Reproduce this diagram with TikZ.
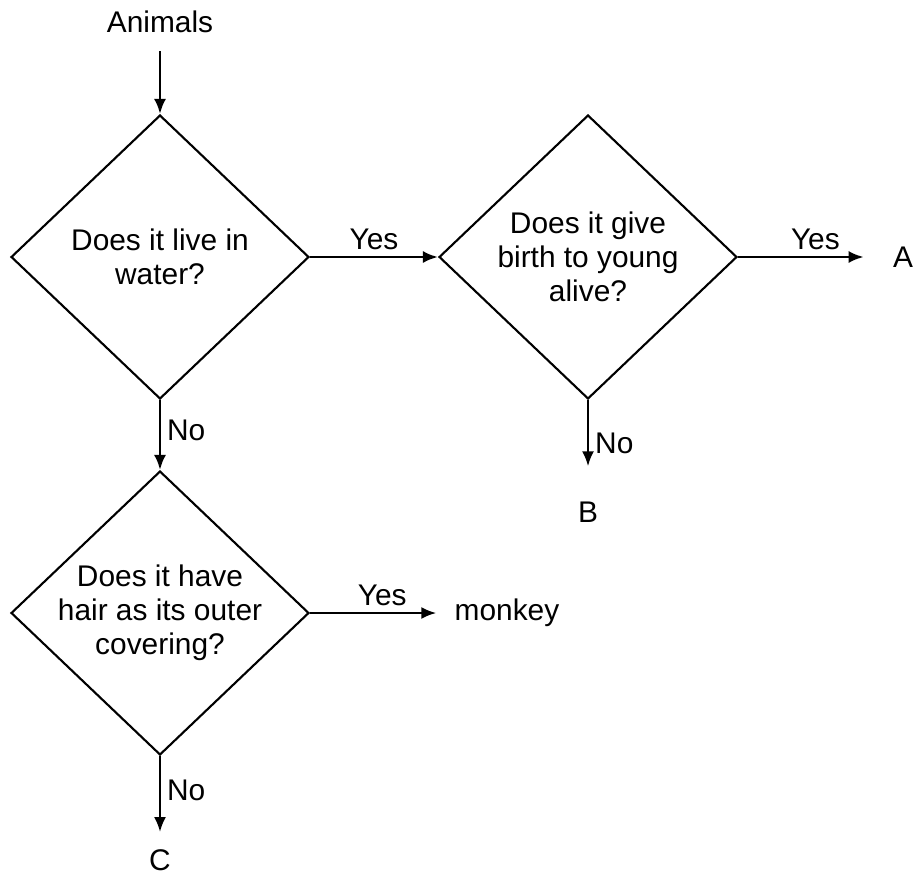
\documentclass[tikz,border=0pt]{standalone}
\usepackage{fontspec}
\setmainfont{Liberation Sans}
\usetikzlibrary{shapes.geometric,arrows.meta}

\begin{document}
\begin{tikzpicture}[x=0.02cm, y=-0.02cm,
  question/.style={draw, diamond, line width=1.2pt, aspect=1.05, inner sep=-4pt,
    minimum width=5.96cm, minimum height=5.68cm, align=center,
    font=\fontsize{17}{19.5}\selectfont},
  lbl/.style={inner sep=0pt, font=\fontsize{17}{19.5}\selectfont},
  ans/.style={font=\fontsize{17}{19.5}\selectfont},
  flow/.style={line width=1.5pt, -{Latex[length=0.3cm, width=0.24cm]}}]

 \useasboundingbox (0,0) rectangle (915,875);

 %questions
 \node[question] (water) at (160,257) {Does it live in\\water?};
 \node[question] (birth) at (588,257) {Does it give\\birth to young\\alive?};
 \node[question] (hair)  at (160,613) {Does it have\\hair as its outer\\covering?};

 %ends
 \node[lbl] (animals) at (160,22)  {Animals};
 \node[lbl] (A)       at (903,257) {A};
 \node[lbl] (B)       at (588,512) {B};
 \node[lbl] (monkey)  at (507,613) {monkey};
 \node[lbl] (C)       at (160,860) {C};

 %arrows
 \draw[flow, shorten <=0.36cm] (animals) -- (water.north);
 \draw[flow] (water.east) -- node[ans, above] {Yes} (birth.west);
 \draw[flow, shorten >=0.58cm] (birth.east) -- node[ans, above] {Yes} (A);
 \draw[flow, shorten >=0.7cm] (birth.south) -- node[ans, right, pos=0.43] {No} (B);
 \draw[flow] (water.south) -- node[ans, right, pos=0.43] {No} (hair.north);
 \draw[flow, shorten >=0.36cm] (hair.east) -- node[ans, above] {Yes} (monkey);
 \draw[flow, shorten >=0.34cm] (hair.south) -- node[ans, right, pos=0.37] {No} (C);

\end{tikzpicture}
\end{document}
